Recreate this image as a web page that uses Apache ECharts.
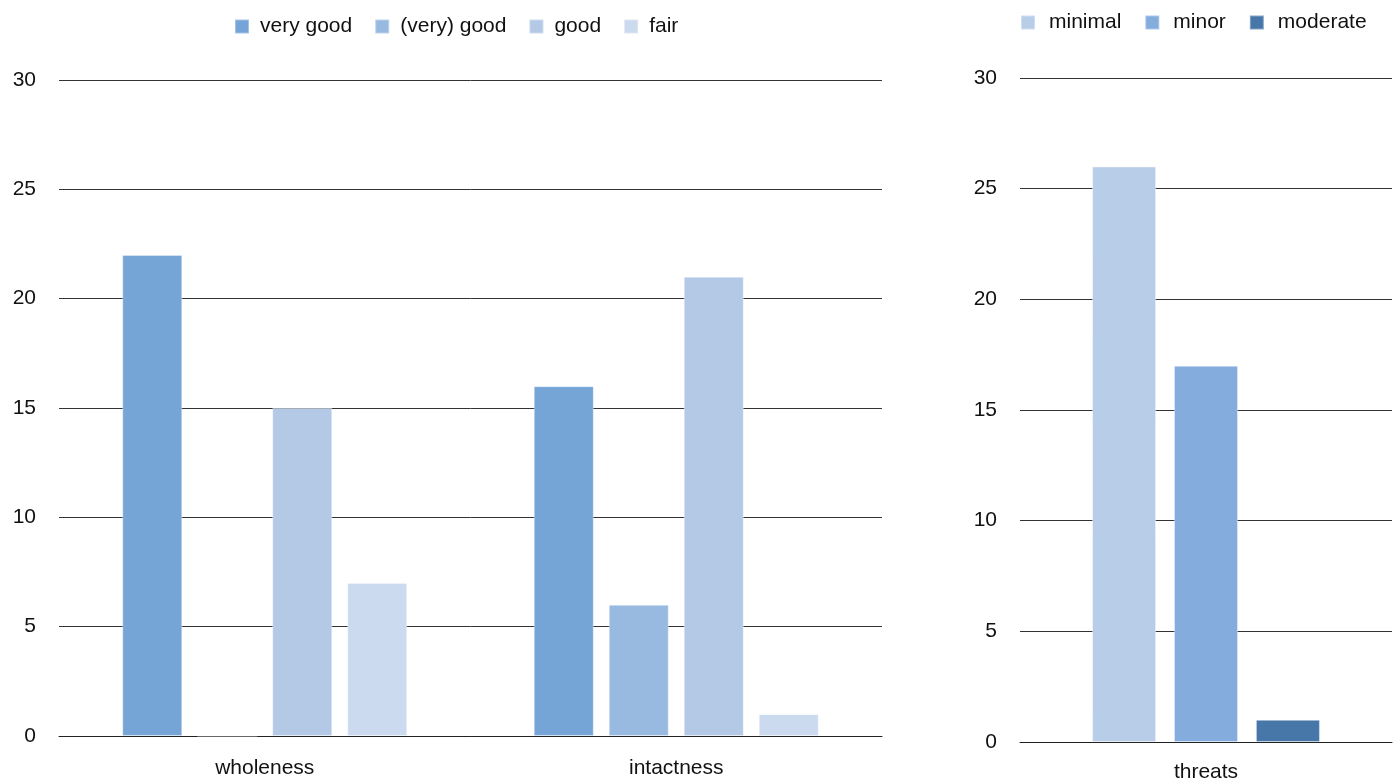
<!DOCTYPE html>
<html>
<head>
<meta charset="utf-8">
<script src="https://cdn.jsdelivr.net/npm/echarts@6/dist/echarts.min.js"></script>
<style>
  html, body { margin: 0; padding: 0; background: #fff; }
  #chart { width: 1397px; height: 781px; }
</style>
</head>
<body>
<div id="chart"></div>
<script>
// left panel: condition
const conditionCategories = ['wholeness', 'intactness']
const veryGood = [22, 16]
const veryGoodish = [0, 6]
const good = [15, 21]
const fair = [7, 1]

// right panel: threats
const threatCategories = ['threats']
const minimal = [26]
const minor = [17]
const moderate = [1]

const yTicks = { min: 0, max: 30, interval: 5 }

let myChart = echarts.init(document.getElementById('chart'))
const font = 'Liberation Sans, Arial, sans-serif'

function barSeries(name, data, color, axisIdx, width, gap) {
    return {
        name: name,
        type: 'bar',
        xAxisIndex: axisIdx,
        yAxisIndex: axisIdx,
        barWidth: width,
        barGap: gap,
        itemStyle: {
            color: color,
            borderColor: 'rgba(255,255,255,0.35)',
            borderWidth: 1
        },
        data: data
    }
}

let options = {
    animation: false,
    textStyle: { fontFamily: font },
    legend: [{
        data: ['very good', '(very) good', 'good', 'fair'],
        left: 229,
        top: 11,
        icon: 'rect',
        itemWidth: 14,
        itemHeight: 14,
        itemGap: 22,
        textStyle: { fontSize: 21, color: '#111', fontFamily: font, padding: [0, 0, 0, 6] }
    }, {
        data: ['minimal', 'minor', 'moderate'],
        left: 1015,
        top: 7,
        icon: 'rect',
        itemWidth: 14,
        itemHeight: 14,
        itemGap: 23,
        textStyle: { fontSize: 21, color: '#111', fontFamily: font, padding: [0, 0, 0, 9] }
    }],
    grid: [
        { left: 59, right: 1397 - 882, top: 80, bottom: 781 - 736, outerBoundsMode: 'none' },
        { left: 1020, right: 5, top: 78, bottom: 781 - 742, outerBoundsMode: 'none' }
    ],
    xAxis: [0, 1].map(i => ({
        type: 'category',
        gridIndex: i,
        data: i === 0 ? conditionCategories : threatCategories,
        axisTick: { show: false },
        axisLine: { lineStyle: { color: '#222', width: 1 } },
        axisLabel: { fontSize: 21, color: '#111', margin: i === 0 ? 22 : 20, fontFamily: font }
    })),
    yAxis: [0, 1].map(i => ({
        type: 'value',
        gridIndex: i,
        min: yTicks.min,
        max: yTicks.max,
        interval: yTicks.interval,
        axisLine: { show: false },
        axisTick: { show: false },
        axisLabel: { fontSize: 21, color: '#111', margin: 23, fontFamily: font },
        splitLine: { lineStyle: { color: '#333', width: 1 } }
    })),
    series: [
        barSeries('very good', veryGood, '#75A5D7', 0, 60, '25%'),
        barSeries('(very) good', veryGoodish, '#99BAE0', 0, 60, '25%'),
        barSeries('good', good, '#B3C9E5', 0, 60, '25%'),
        barSeries('fair', fair, '#CBDAEF', 0, 60, '25%'),
        barSeries('minimal', minimal, '#B8CDE8', 1, 64, '28%'),
        barSeries('minor', minor, '#84ADDE', 1, 64, '28%'),
        barSeries('moderate', moderate, '#4677A8', 1, 64, '28%')
    ]
}
myChart.setOption(options)
</script>
</body>
</html>
